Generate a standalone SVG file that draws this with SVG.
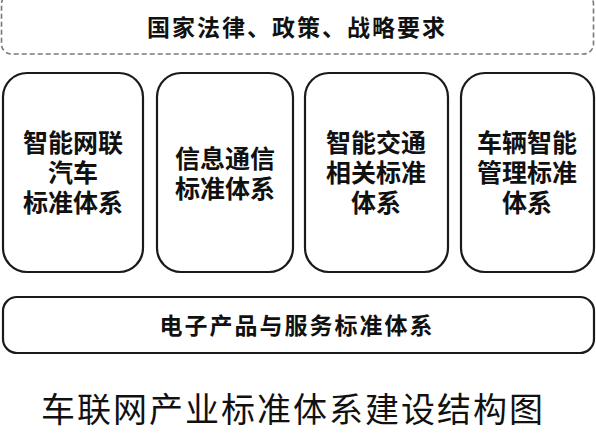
<svg xmlns="http://www.w3.org/2000/svg" width="596" height="440" viewBox="0 0 596 440">
<style>
.box{fill:#fff;stroke:#1a1a1a;stroke-width:2.2}
.dash{fill:#fff;stroke:#777;stroke-width:1.6;stroke-dasharray:5 3}
.t{font-family:"Noto Sans CJK SC","Noto Sans",sans-serif;font-weight:700;font-size:25px;fill:#111;text-anchor:middle}
.title{font-family:"Noto Sans CJK SC","Noto Sans",sans-serif;font-weight:400;font-size:34px;fill:#111;text-anchor:middle}
</style>
<rect width="596" height="440" fill="#fff"/>
<g id="top">
<rect class="dash" x="1.5" y="-6" width="592" height="60" rx="10"/>
<text class="t" x="297" y="36" style="font-size:23px;letter-spacing:2px">国家法律、政策、战略要求</text>
</g>
<g id="n1">
<rect class="box" x="3" y="73" width="140" height="199" rx="24"/>
<text class="t"><tspan x="73" y="152">智能网联</tspan><tspan x="73" y="182">汽车</tspan><tspan x="73" y="212">标准体系</tspan></text>
</g>
<g id="n2">
<rect class="box" x="157" y="73" width="136" height="199" rx="24"/>
<text class="t"><tspan x="225" y="168">信息通信</tspan><tspan x="225" y="198">标准体系</tspan></text>
</g>
<g id="n3">
<rect class="box" x="305" y="73" width="143" height="199" rx="24"/>
<text class="t"><tspan x="376" y="152">智能交通</tspan><tspan x="376" y="182">相关标准</tspan><tspan x="376" y="212">体系</tspan></text>
</g>
<g id="n4">
<rect class="box" x="461" y="73" width="133" height="199" rx="24"/>
<text class="t"><tspan x="527" y="152">车辆智能</tspan><tspan x="527" y="182">管理标准</tspan><tspan x="527" y="212">体系</tspan></text>
</g>
<g id="bottom">
<rect class="box" x="3" y="297" width="591" height="56" rx="14"/>
<text class="t" x="297" y="334" style="font-size:23px;letter-spacing:2px">电子产品与服务标准体系</text>
</g>
<g id="connectors"></g>
<text class="title" x="293" y="422" style="letter-spacing:2px">车联网产业标准体系建设结构图</text>
</svg>
